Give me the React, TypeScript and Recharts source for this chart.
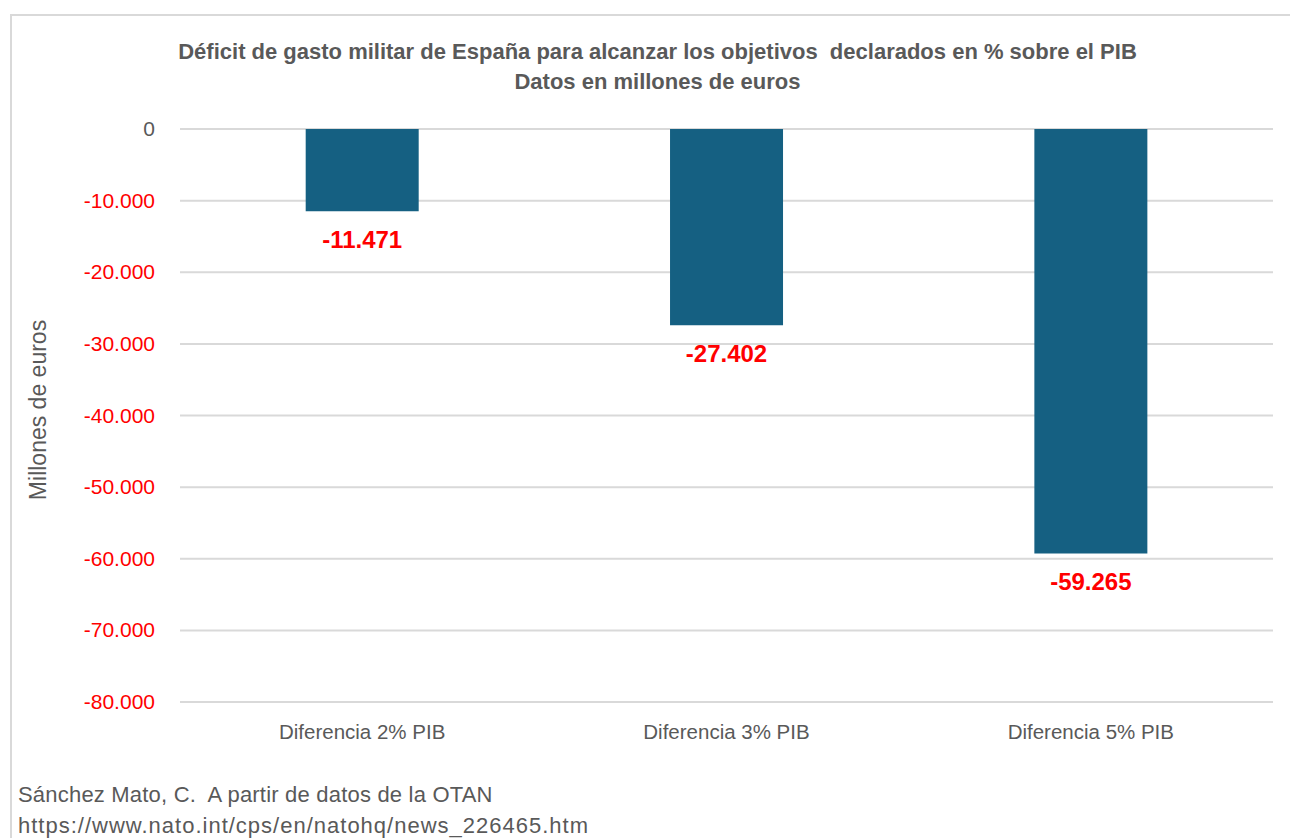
import { BarChart, Bar, XAxis, YAxis, CartesianGrid, LabelList } from "recharts";

const categories = ["Diferencia 2% PIB", "Diferencia 3% PIB", "Diferencia 5% PIB"];
const deficit = [-11471, -27402, -59265];
const yTicks = [0, -10000, -20000, -30000, -40000, -50000, -60000, -70000, -80000];

const data = categories.map((name, i) => ({ name, value: deficit[i] }));

const narrow = "'Liberation Sans Narrow', 'Liberation Sans', Arial, sans-serif";
const sans = "'Liberation Sans', Arial, sans-serif";

// separador de miles con punto
function fmt(n: number) {
  const s = Math.abs(n).toString().replace(/\B(?=(\d{3})+(?!\d))/g, ".");
  return n < 0 ? "-" + s : s;
}

function YTick(props: any) {
  const { x, y, payload } = props;
  const v = payload.value;
  return (
    <text x={x} y={y} dy={7} textAnchor="end" fontSize={21} fontFamily={sans}
      fill={v < 0 ? "#ff0000" : "#595959"}>
      {fmt(v)}
    </text>
  );
}

function ValueLabel(props: any) {
  const { x, y, width, height, value } = props;
  const end = Math.max(y, y + height);
  return (
    <text x={x + width / 2} y={end + 37} textAnchor="middle" fontSize={24}
      fontWeight="bold" fontFamily={sans} fill="#ff0000">
      {fmt(value)}
    </text>
  );
}

export default function App() {
  return (
    <div style={{ position: "absolute", left: 0, top: 0, width: 1290, height: 838, background: "#fff", overflow: "hidden" }}>
      <div style={{ position: "absolute", left: 10, top: 14, width: 1290, height: 830, borderTop: "2px solid #d9d9d9", borderLeft: "2px solid #d9d9d9" }} />

      <div style={{ position: "absolute", left: 0, top: 37, width: 1315, textAlign: "center", fontFamily: narrow, fontWeight: "bold", fontSize: 22, color: "#595959", lineHeight: "30px" }}>
        <div>Déficit de gasto militar de España para alcanzar los objetivos&nbsp; declarados en % sobre el PIB</div>
        <div>Datos en millones de euros</div>
      </div>

      <div style={{ position: "absolute", left: 38, top: 410, transform: "translate(-50%, -50%) rotate(-90deg)", whiteSpace: "nowrap", fontFamily: sans, fontSize: 23, color: "#595959" }}>
        Millones de euros
      </div>

      <div style={{ position: "absolute", left: 0, top: 0 }}>
        <BarChart width={1290} height={838} data={data}
          margin={{ top: 129, right: 17, bottom: 106, left: 100 }}
          barCategoryGap="34.5%">
          <CartesianGrid vertical={false} stroke="#d9d9d9" strokeWidth={2} />
          <XAxis dataKey="name" axisLine={false} tickLine={false} tickSize={0} tickMargin={22}
            tick={{ fill: "#595959", fontSize: 20.5, fontFamily: sans }} interval={0} />
          <YAxis width={80} domain={[-80000, 0]} ticks={yTicks} axisLine={false} tickLine={false}
            tickSize={0} tickMargin={25} tick={<YTick />} interval={0} />
          <Bar dataKey="value" fill="#156082" isAnimationActive={false}>
            <LabelList dataKey="value" content={<ValueLabel />} />
          </Bar>
        </BarChart>
      </div>

      <div style={{ position: "absolute", left: 18, top: 779, fontFamily: narrow, fontSize: 22, color: "#595959", lineHeight: "31px", whiteSpace: "nowrap" }}>
        <div style={{ letterSpacing: 0.2 }}>Sánchez Mato, C.&nbsp; A partir de datos de la OTAN</div>
        <div style={{ letterSpacing: 1 }}>https://www.nato.int/cps/en/natohq/news_226465.htm</div>
      </div>
    </div>
  );
}
